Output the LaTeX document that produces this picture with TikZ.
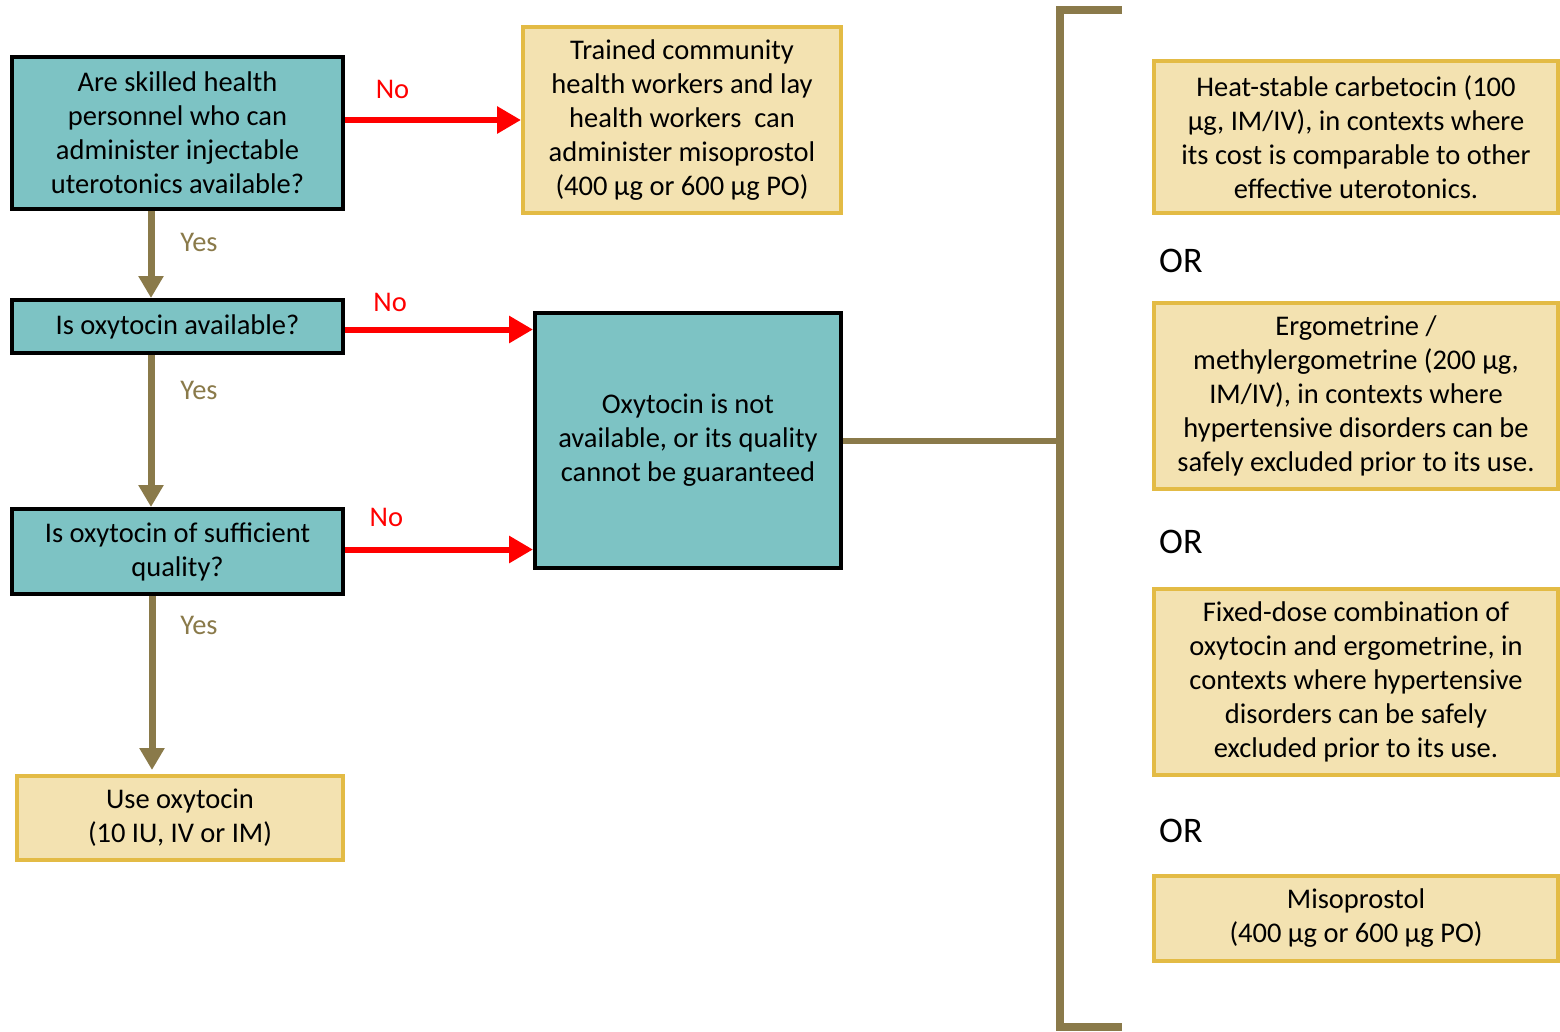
\documentclass[tikz,border=0pt]{standalone}
\usepackage{fontspec}
\setmainfont{Carlito}
\usetikzlibrary{positioning,calc,arrows.meta}
\definecolor{cteal}{HTML}{7DC3C4}
\definecolor{cpale}{HTML}{F3E2B1}
\definecolor{cgold}{HTML}{E3BB45}
\definecolor{colive}{HTML}{8A7A4A}
\definecolor{cred}{HTML}{FF0000}
\newcommand\boxfont{\fontsize{28.5}{34}\selectfont}
\newcommand\orfont{\fontsize{36}{34}\selectfont}

\begin{document}
\begin{tikzpicture}[x=1pt,y=-1pt,
    qbox/.style={draw=black,line width=4pt,fill=cteal,align=center,inner sep=0pt,font=\boxfont},
    abox/.style={draw=cgold,line width=4pt,fill=cpale,align=center,inner sep=0pt,font=\boxfont},
    nolink/.style={draw=cred,line width=6pt,-{Triangle[length=24pt,width=26pt]}},
    yeslink/.style={draw=colive,line width=7pt,-{Triangle[length=22pt,width=24pt]}},
    nolbl/.style={text=cred,font=\boxfont},
    yeslbl/.style={text=colive,font=\boxfont}]
    \useasboundingbox (0,0) rectangle (1560,1031);
    % question boxes on the left
    \node[qbox,minimum width=331pt,minimum height=152pt] (q1) at (177.5,133)
      {Are skilled health\\personnel who can\\administer injectable\\uterotonics available?};
    \node[qbox,minimum width=331pt,minimum height=53pt] (q2) at (177.5,326.5) {Is oxytocin available?};
    \node[qbox,minimum width=331pt,minimum height=85pt] (q3) at (177.5,551.5) {Is oxytocin of sufficient\\quality?};
    \node[abox,minimum width=326pt,minimum height=84pt] (use) at (180,818) {Use oxytocin\\(10 IU, IV or IM)};
    % middle column
    \node[abox,minimum width=318pt,minimum height=186pt] (train) at (682,120)
      {Trained community\\health workers and lay\\health workers~ can\\administer misoprostol\\(400 µg or 600 µg PO)};
    \node[qbox,minimum width=306pt,minimum height=255pt] (notav) at (688,440.5)
      {Oxytocin is not\\available, or its quality\\cannot be guaranteed};
    % alternatives on the right
    \node[abox,minimum width=404pt,minimum height=152pt] (alt1) at (1356,137)
      {Heat-stable carbetocin (100\\µg, IM/IV), in contexts where\\its cost is comparable to other\\effective uterotonics.};
    \node[abox,minimum width=404pt,minimum height=186pt] (alt2) at (1356,396)
      {Ergometrine /\\methylergometrine (200 µg,\\IM/IV), in contexts where\\hypertensive disorders can be\\safely excluded prior to its use.};
    \node[abox,minimum width=404pt,minimum height=186pt] (alt3) at (1356,682)
      {Fixed-dose combination of\\oxytocin and ergometrine, in\\contexts where hypertensive\\disorders can be safely\\excluded prior to its use.};
    \node[abox,minimum width=404pt,minimum height=85pt] (alt4) at (1356,918.5)
      {Misoprostol\\(400 µg or 600 µg PO)};
    \node[anchor=west,inner sep=0pt,font=\orfont] (or1) at (1159,261) {OR};
    \node[anchor=west,inner sep=0pt,font=\orfont] (or2) at (1159,542) {OR};
    \node[anchor=west,inner sep=0pt,font=\orfont] (or3) at (1159,831) {OR};
    % no arrows
    \draw[nolink] (q1.east |- train.west) -- (train.west)
      node[nolbl,pos=0.27,yshift=31pt] {No};
    \draw[nolink] ($(q2.east)+(0,3)$) -- ($(q2.east -| notav.west)+(0,3)$)
      node[nolbl,pos=0.24,yshift=27pt] {No};
    \draw[nolink] ($(q3.east)+(0,-2)$) -- ($(q3.east -| notav.west)+(0,-2)$)
      node[nolbl,pos=0.22,yshift=32pt] {No};
    % yes arrows
    \draw[yeslink] ($(q1.south)+(-26.5,0)$) -- ($(q2.north)+(-26.5,0)$)
      node[yeslbl,pos=0.36,xshift=48pt] {Yes};
    \draw[yeslink] ($(q2.south)+(-26.5,0)$) -- ($(q3.north)+(-26.5,0)$)
      node[yeslbl,pos=0.23,xshift=48pt] {Yes};
    \draw[yeslink] ($(q3.south)+(-25.5,0)$) -- ($(use.north)+(-28,-4)$)
      node[yeslbl,pos=0.17,xshift=47pt] {Yes};
    % bracket
    \coordinate (brk) at (1060,440.5);
    \draw[colive,line width=6pt] (notav.east) -- (brk);
    \draw[colive,line width=8pt] (1122,10) -- (1060,10) -- (1060,1027) -- (1122,1027);
\end{tikzpicture}
\end{document}
